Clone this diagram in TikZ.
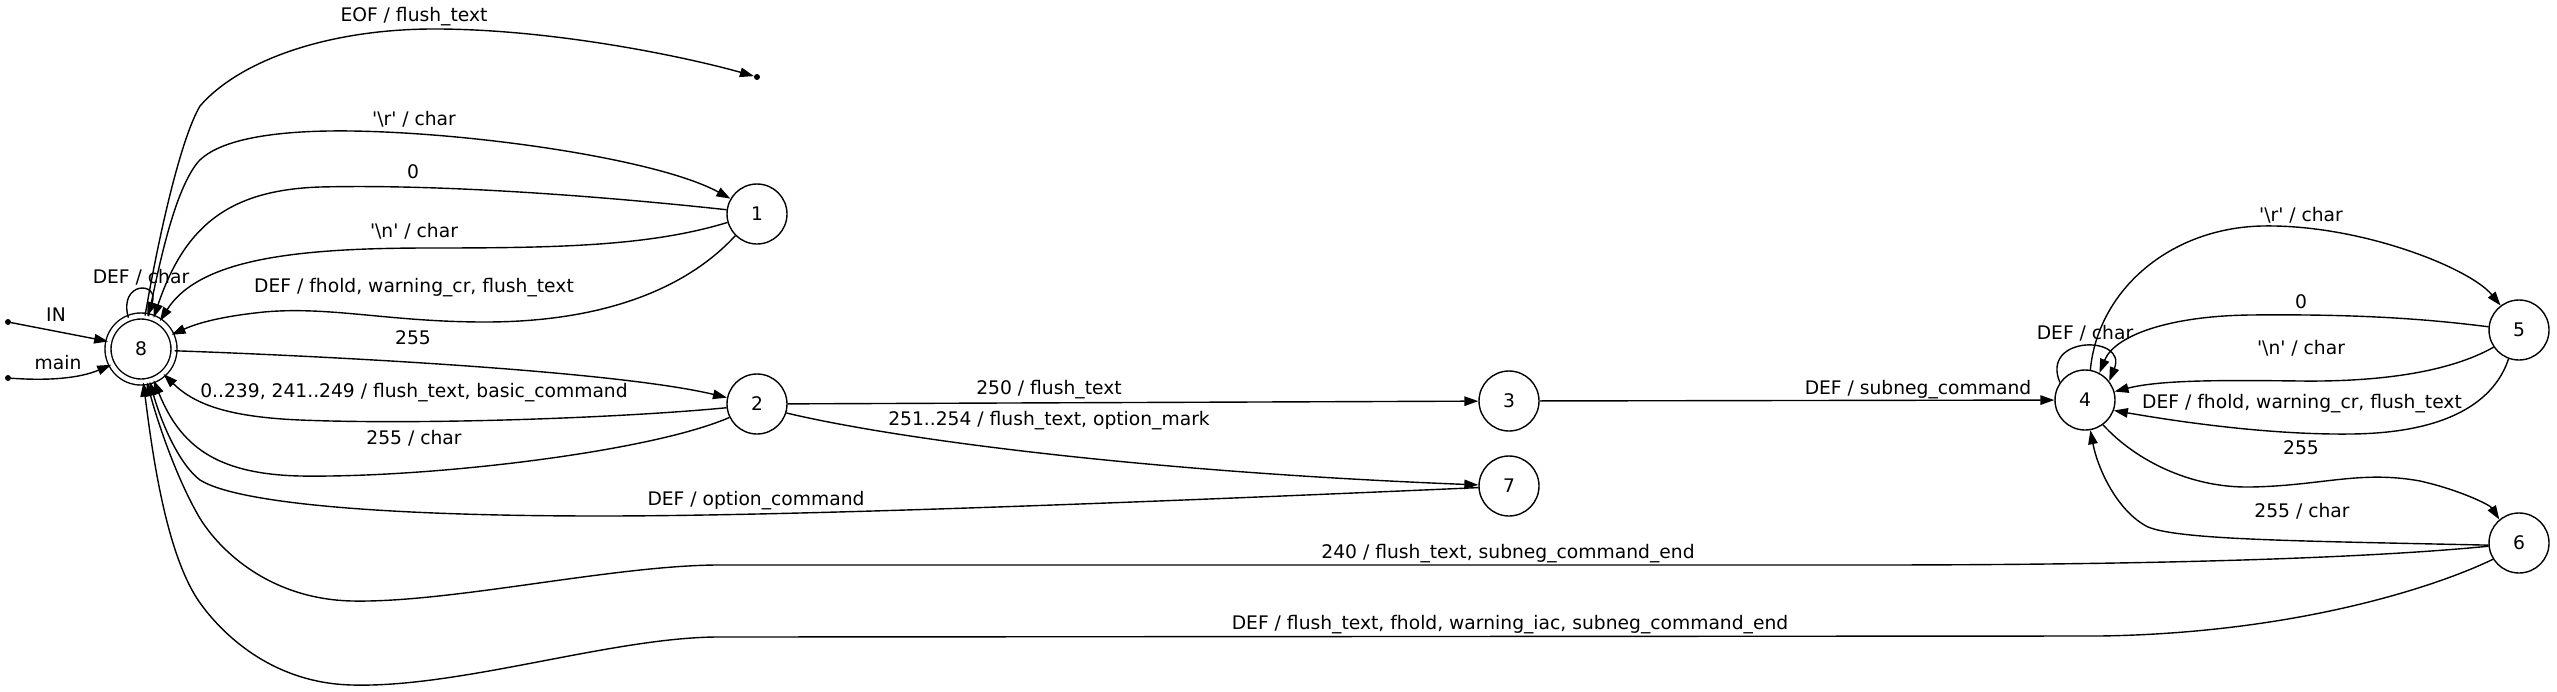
\documentclass[tikz,border=0pt]{standalone}
\usepackage{fontspec}
\setmainfont{DejaVu Sans}[Ligatures=TeXOff]
\usetikzlibrary{arrows.meta}
\newcommand{\bs}{\textbackslash}
\begin{document}
\begin{tikzpicture}[x=1pt,y=-1pt,
  state/.style={draw,circle,minimum size=60pt,inner sep=0pt,line width=1.4pt,font=\fontsize{18.7}{22}\selectfont},
  final/.style={state,minimum size=66pt,double,double distance=4.6pt},
  dot/.style={circle,fill,inner sep=0pt,minimum size=6pt},
  tr/.style={line width=1.4pt,-{Triangle[length=14pt,width=9.5pt]}},
  lbl/.style={inner sep=0pt,font=\fontsize{18.7}{22}\selectfont,text height=13.6pt,text depth=0pt},
]
\useasboundingbox (0,0) rectangle (2557,691);
% states
\node[final] (n8) at (141,349) {8};
\node[state] (n1) at (757,214) {1};
\node[state] (n2) at (757,404) {2};
\node[state] (n3) at (1509,401) {3};
\node[state] (n7) at (1509,486) {7};
\node[state] (n4) at (2085,400) {4};
\node[state] (n5) at (2519,330) {5};
\node[state] (n6) at (2519,543) {6};
\node[dot] (s1) at (8,322) {};
\node[dot] (s2) at (8,378) {};
\node[dot] (fin) at (757,77) {};
% start arrows
\draw[tr] (s1) -- (n8.167);
\draw[tr] (s2) .. controls (50,381) and (80,378) .. (n8.208);
\node[lbl] (lIN) at (56,315) {IN};
\node[lbl] (lmain) at (58,363) {main};
% node 8 loop
\draw[tr] (n8.112) .. controls (118,281) and (160,281) .. (n8.79);
\node[lbl] (l8loop) at (141,277) {DEF / char};
% EOF
\draw[tr] (n8.83) .. controls (158,240) and (180,140) .. (200,106) .. controls (240,60) and (330,28) .. (440,29) .. controls (560,30) and (690,58) .. (fin);
\node[lbl] (lEOF) at (414,15) {EOF / flush\_text};
% 8 -> 1
\draw[tr] (n8.77) .. controls (160,260) and (175,190) .. (198,162) .. controls (220,138) and (280,130) .. (352,131) .. controls (480,133) and (660,160) .. (n1.150);
\node[lbl] (l81) at (414,119) {'\bs r' / char};
% 1 -> 8
\draw[tr] (n1.172) .. controls (600,196) and (440,184) .. (320,187) .. controls (230,190) and (185,225) .. (n8.68);
\node[lbl] (l18a) at (413,172) {0};
\draw[tr] (n1.196) .. controls (650,246) and (560,248) .. (430,248) .. controls (300,248) and (200,258) .. (n8.56);
\node[lbl] (l18b) at (414,231) {'\bs n' / char};
\draw[tr] (n1.225) .. controls (690,285) and (610,322) .. (485,322) .. controls (390,322) and (330,306) .. (264,312) .. controls (225,316) and (200,322) .. (n8.25);
\node[lbl] (l18c) at (414,286) {DEF / fhold, warning\_cr, flush\_text};
% 8 -> 2
\draw[tr] (n8.-3) .. controls (350,357) and (620,372) .. (n2.168);
\node[lbl] (l82) at (413,338) {255};
% 2 -> 8
\draw[tr] (n2.187) .. controls (620,418) and (420,425) .. (300,420) .. controls (230,417) and (195,405) .. (n8.-48);
\node[lbl] (l28a) at (414,391) {0..239, 241..249 / flush\_text, basic\_command};
\draw[tr] (n2.206) .. controls (650,452) and (430,478) .. (300,476) .. controls (215,474) and (180,445) .. (n8.-68);
\node[lbl] (l28b) at (414,438) {255 / char};
% 7 -> 8
\draw[tr] (n7.183) .. controls (1150,502) and (800,516) .. (600,516) .. controls (400,516) and (240,505) .. (200,480) .. controls (180,465) and (162,425) .. (n8.-75);
\node[lbl] (l78) at (756,499) {DEF / option\_command};
% 6 -> 8
\draw[tr] (n6.186) .. controls (2420,553) and (2250,565) .. (1866,565) -- (716,565) .. controls (610,566) and (450,603) .. (352,601) .. controls (265,599) and (215,545) .. (198,515) .. controls (178,480) and (160,430) .. (n8.-80);
\node[lbl] (l68a) at (1508,552) {240 / flush\_text, subneg\_command\_end};
\draw[tr] (n6.212) .. controls (2440,585) and (2300,633) .. (2100,636) -- (716,637) .. controls (610,638) and (460,688) .. (352,685) .. controls (265,683) and (215,625) .. (198,600) .. controls (165,550) and (152,450) .. (n8.-86);
\node[lbl] (l68b) at (1510,623) {DEF / flush\_text, fhold, warning\_iac, subneg\_command\_end};
% 2 -> 3, 2 -> 7, 3 -> 4
\draw[tr] (n2) -- (n3);
\node[lbl] (l23) at (1049,388) {250 / flush\_text};
\draw[tr] (n2.-17) .. controls (900,440) and (1150,472) .. (n7.178);
\node[lbl] (l27) at (1049,419) {251..254 / flush\_text, option\_mark};
\draw[tr] (n3) -- (n4);
\node[lbl] (l34) at (1918,388) {DEF / subneg\_command};
% node 4 loop
\draw[tr] (n4.145) .. controls (2040,335) and (2128,335) .. (n4.38);
\node[lbl] (l4loop) at (2085,333) {DEF / char};
% 4 -> 5
\draw[tr] (n4.80) .. controls (2098,290) and (2170,228) .. (2262,226) .. controls (2360,224) and (2470,268) .. (n5.127);
\node[lbl] (l45) at (2301,215) {'\bs r' / char};
% 5 -> 4
\draw[tr] (n5.174) .. controls (2420,318) and (2350,314) .. (2250,315) .. controls (2170,316) and (2115,335) .. (n4.62);
\node[lbl] (l54a) at (2301,302) {0};
\draw[tr] (n5.214) .. controls (2450,372) and (2380,382) .. (2300,381) .. controls (2220,380) and (2160,380) .. (n4.16);
\node[lbl] (l54b) at (2301,348) {'\bs n' / char};
\draw[tr] (n5.250) .. controls (2495,400) and (2450,433) .. (2351,434) .. controls (2270,435) and (2180,422) .. (n4.-20);
\node[lbl] (l54c) at (2302,402) {DEF / fhold, warning\_cr, flush\_text};
% 4 -> 6
\draw[tr] (n4.-54) .. controls (2135,460) and (2190,488) .. (2250,487) .. controls (2320,486) and (2360,470) .. (2420,481) .. controls (2460,490) and (2490,505) .. (n6.130);
\node[lbl] (l46) at (2301,448) {255};
% 6 -> 4
\draw[tr] (n6.184) .. controls (2300,541) and (2180,540) .. (2148,527) .. controls (2118,512) and (2098,470) .. (n4.-80);
\node[lbl] (l64) at (2302,511) {255 / char};
\end{tikzpicture}
\end{document}
